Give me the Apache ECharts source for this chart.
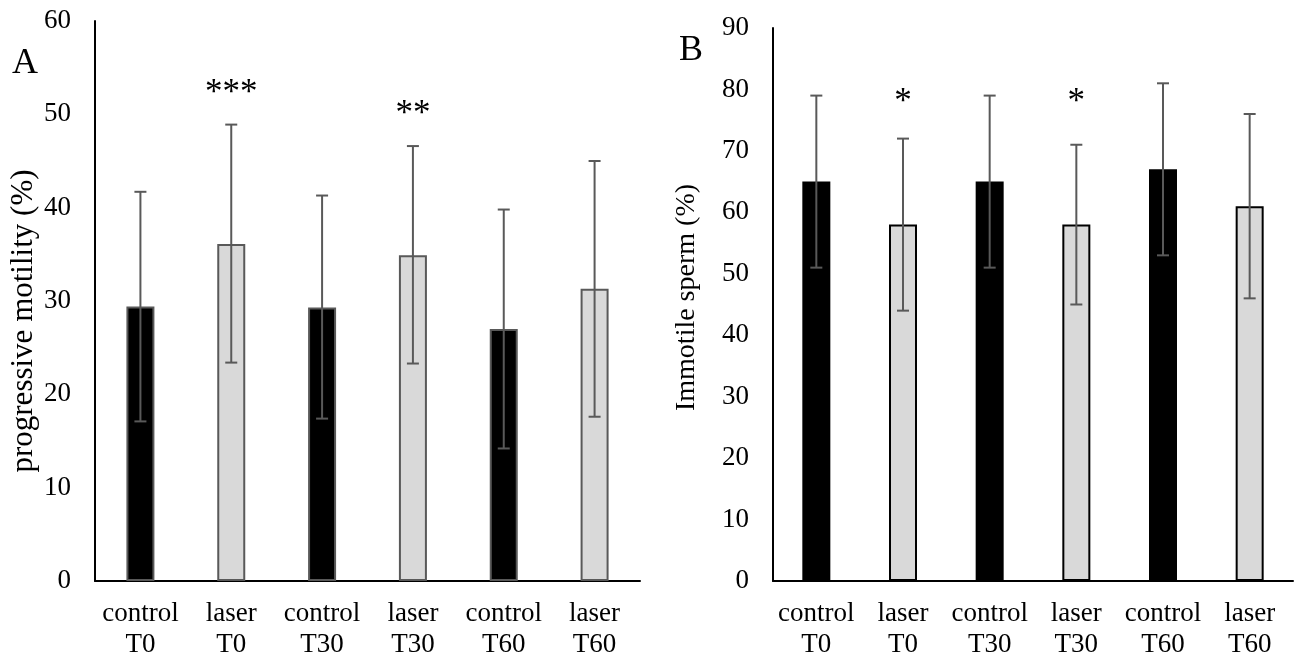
<!doctype html>
<html lang="en">
<head>
    <meta charset="utf-8">
    <title>Sperm motility</title>
    <script src="https://cdn.jsdelivr.net/npm/echarts@6/dist/echarts.min.js"></script>
    <style type="text/css">
        html, body { margin: 0; padding: 0; background: #fff; }
        #chart { width: 1298px; height: 661px; }
    </style>
</head>
<body>
    <div id="chart"></div>
    <script>
        const categories = ['control\nT0', 'laser\nT0', 'control\nT30', 'laser\nT30', 'control\nT60', 'laser\nT60'];

        // panel A: progressive motility (%)
        const motilityMean = [29.4, 36.1, 29.3, 34.9, 27.0, 31.3];
        const motilityLow = [17.1, 23.4, 17.4, 23.3, 14.2, 17.6];
        const motilityHigh = [41.7, 48.9, 41.3, 46.6, 39.8, 45.0];
        const motilityStars = ['', '***', '', '**', '', ''];
        const motilityStarY = [0, 52.2, 0, 50.0, 0, 0];

        // panel B: immotile sperm (%)
        const immotileMean = [65, 58, 65, 58, 67, 61];
        const immotileLow = [51, 44, 51, 45, 53, 46];
        const immotileHigh = [79, 72, 79, 71, 81, 76];
        const immotileStars = ['', '*', '', '*', '', ''];
        const immotileStarY = [0, 77.8, 0, 77.8, 0, 0];

        const FONT = '"Liberation Serif", "DejaVu Serif", serif';
        const fills = ['#000000', '#d9d9d9'];

        function barData(values, border) {
            return values.map(function (v, i) {
                return {
                    value: v,
                    itemStyle: { color: fills[i % 2], borderColor: border, borderWidth: 2 }
                };
            });
        }

        function errorBars(idx, low, high) {
            return {
                type: 'custom',
                xAxisIndex: idx,
                yAxisIndex: idx,
                z: 5,
                data: low.map(function (l, i) { return [i, l, high[i]]; }),
                renderItem: function (params, api) {
                    let lo = api.coord([api.value(0), api.value(1)]);
                    let hi = api.coord([api.value(0), api.value(2)]);
                    let x = lo[0], cap = 6;
                    let style = { stroke: '#595959', lineWidth: 2 };
                    return {
                        type: 'group',
                        children: [
                            { type: 'line', shape: { x1: x, y1: lo[1], x2: x, y2: hi[1] }, style: style },
                            { type: 'line', shape: { x1: x - cap, y1: lo[1], x2: x + cap, y2: lo[1] }, style: style },
                            { type: 'line', shape: { x1: x - cap, y1: hi[1], x2: x + cap, y2: hi[1] }, style: style }
                        ]
                    };
                }
            };
        }

        function stars(idx, marks, ys) {
            let data = [];
            marks.forEach(function (m, i) { if (m) data.push([i, ys[i], m]); });
            return {
                type: 'custom',
                xAxisIndex: idx,
                yAxisIndex: idx,
                data: data,
                renderItem: function (params, api) {
                    let p = api.coord([api.value(0), api.value(1)]);
                    return {
                        type: 'text',
                        x: p[0],
                        y: p[1],
                        style: {
                            text: marks[api.value(0)],
                            fontFamily: FONT,
                            fontSize: 35,
                            fill: '#000',
                            align: 'center',
                            verticalAlign: 'middle'
                        }
                    };
                }
            };
        }

        function xAxis(idx) {
            return {
                type: 'category',
                gridIndex: idx,
                data: categories,
                axisTick: { show: false },
                axisLine: { lineStyle: { color: '#000', width: 2 } },
                axisLabel: { color: '#000', fontFamily: FONT, fontSize: 27, lineHeight: 31, margin: 17, interval: 0 }
            };
        }

        function yAxis(idx, max, name, gap, size, pad) {
            return {
                type: 'value',
                gridIndex: idx,
                min: 0,
                max: max,
                interval: 10,
                name: name,
                nameLocation: 'middle',
                nameGap: gap,
                nameTextStyle: { color: '#000', fontFamily: FONT, fontSize: size, padding: pad },
                splitLine: { show: false },
                axisTick: { show: false },
                axisLine: { show: true, lineStyle: { color: '#000', width: 2 } },
                axisLabel: { color: '#000', fontFamily: FONT, fontSize: 27, margin: 24 }
            };
        }

        let myChart = echarts.init(document.getElementById('chart'));
        let option = {
            animation: false,
            grid: [
                { left: 95, right: 658, top: 21, bottom: 80 },
                { left: 773, right: 5, top: 28, bottom: 80 }
            ],
            xAxis: [xAxis(0), xAxis(1)],
            yAxis: [
                yAxis(0, 60, 'progressive motility (%)', 56, 31, [0, 40, 0, 0]),
                yAxis(1, 90, 'Immotile sperm (%)', 72, 28, [0, 0, 0, 14])
            ],
            graphic: [
                { type: 'text', left: 12, top: 46, style: { text: 'A', fontFamily: FONT, fontSize: 36, fill: '#000' } },
                { type: 'text', left: 679, top: 33, style: { text: 'B', fontFamily: FONT, fontSize: 36, fill: '#000' } }
            ],
            series: [
                { type: 'bar', xAxisIndex: 0, yAxisIndex: 0, barWidth: 28, data: barData(motilityMean, '#595959') },
                errorBars(0, motilityLow, motilityHigh),
                stars(0, motilityStars, motilityStarY),
                { type: 'bar', xAxisIndex: 1, yAxisIndex: 1, barWidth: 28, data: barData(immotileMean, '#000') },
                errorBars(1, immotileLow, immotileHigh),
                stars(1, immotileStars, immotileStarY)
            ]
        };
        myChart.setOption(option);
    </script>
</body>
</html>
